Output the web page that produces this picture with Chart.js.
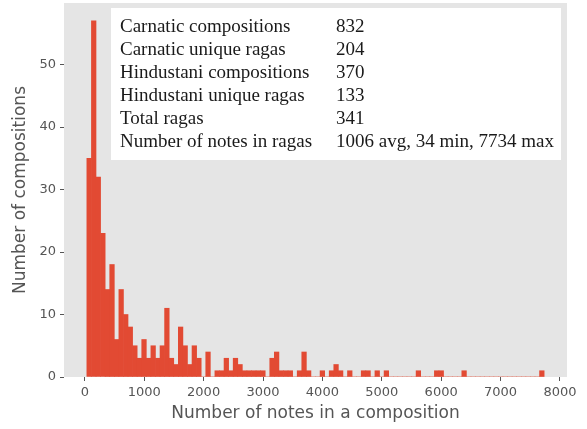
<!DOCTYPE html>
<html>
<head>
<meta charset="utf-8">
<script src="https://cdn.jsdelivr.net/npm/chart.js@4/dist/chart.umd.min.js"></script>
<style>
  html, body { margin: 0; padding: 0; background: #fff; }
  #wrap { width: 587px; height: 429px; }
</style>
</head>
<body>
<div id="wrap"><canvas id="hist" width="587" height="429"></canvas></div>
<script>
// histogram bins: 100 bins from min to max note count
const binMin = 34;
const binMax = 7734;
const binCount = 100;

// compositions per bin
const counts = [
  35, 57, 32, 23, 14, 18, 6, 14, 10, 8,
  5, 3, 6, 3, 5, 3, 5, 11, 3, 2,
  8, 5, 2, 5, 3, 0, 4, 0, 1, 1,
  3, 1, 3, 2, 1, 1, 1, 1, 1, 0,
  3, 4, 1, 1, 1, 0, 1, 4, 1, 0,
  0, 1, 0, 1, 2, 1, 0, 1, 0, 0,
  1, 1, 0, 1, 0, 1, 0, 0, 0, 0,
  0, 0, 1, 0, 0, 0, 1, 1, 0, 0,
  0, 0, 1, 0, 0, 0, 0, 0, 0, 0,
  0, 0, 0, 0, 0, 0, 0, 0, 0, 1
];

const xTicks = [0, 1000, 2000, 3000, 4000, 5000, 6000, 7000, 8000];
const yTicks = [0, 10, 20, 30, 40, 50];

// summary table in the corner
const statLabels = [
  'Carnatic compositions',
  'Carnatic unique ragas',
  'Hindustani compositions',
  'Hindustani unique ragas',
  'Total ragas',
  'Number of notes in ragas'
];
const statValues = ['832', '204', '370', '133', '341', '1006 avg, 34 min, 7734 max'];

const binWidth = (binMax - binMin) / binCount;
const points = counts.map((c, i) => ({ x: binMin + binWidth * (i + 0.5), y: c }));

const GRAY = '#555555';

// 背景和统计表
const panelPlugin = {
  id: 'panel',
  beforeDraw(chart) {
    const { ctx, chartArea: a } = chart;
    ctx.save();
    ctx.fillStyle = '#E5E5E5';
    ctx.fillRect(a.left, a.top, a.right - a.left, a.bottom - a.top);
    ctx.restore();
  },
  afterDatasetsDraw(chart) {
    const ctx = chart.ctx;
    ctx.save();
    ctx.fillStyle = '#ffffff';
    ctx.fillRect(111, 8, 450, 152);
    ctx.fillStyle = '#1a1a1a';
    ctx.font = '19px "Liberation Serif", serif';
    ctx.textBaseline = 'middle';
    statLabels.forEach((lab, i) => {
      const y = 27 + i * 23;
      ctx.fillText(lab, 120, y);
      ctx.fillText(statValues[i], 336, y);
    });
    ctx.restore();
  }
};

new Chart(document.getElementById('hist'), {
  type: 'bar',
  data: {
    datasets: [{
      data: points,
      backgroundColor: '#E24A33',
      borderWidth: 0,
      barPercentage: 1,
      categoryPercentage: 1
    }]
  },
  options: {
    responsive: false,
    animation: false,
    layout: { padding: { left: 0, right: 20, top: 3, bottom: 0 } },
    plugins: { legend: { display: false }, tooltip: { enabled: false } },
    scales: {
      x: {
        type: 'linear',
        offset: false,
        min: -351,
        max: 8119,
        afterBuildTicks: s => { s.ticks = xTicks.map(v => ({ value: v })); },
        afterFit: s => { s.height = 52; s.paddingLeft = 0; s.paddingRight = 0; },
        grid: { offset: false, drawOnChartArea: false, drawTicks: true, tickLength: 4, tickColor: GRAY },
        border: { display: false },
        ticks: { color: GRAY, font: { family: 'DejaVu Sans', size: 13 }, padding: 4, maxRotation: 0,
                 callback: v => String(v) },
        title: { display: true, text: 'Number of notes in a composition', color: GRAY,
                 font: { family: 'DejaVu Sans', size: 17 }, padding: { top: 0, bottom: 5 } }
      },
      y: {
        min: 0,
        max: 59.85,
        afterBuildTicks: s => { s.ticks = yTicks.map(v => ({ value: v })); },
        afterFit: s => { s.width = 64; s.paddingTop = 0; s.paddingBottom = 0; },
        grid: { drawOnChartArea: false, drawTicks: true, tickLength: 4, tickColor: GRAY },
        border: { display: false },
        ticks: { color: GRAY, font: { family: 'DejaVu Sans', size: 13 }, padding: 4 },
        title: { display: true, text: 'Number of compositions', color: GRAY,
                 font: { family: 'DejaVu Sans', size: 17 }, padding: { top: 10, bottom: 0 } }
      }
    }
  },
  plugins: [panelPlugin]
});
</script>
</body>
</html>
